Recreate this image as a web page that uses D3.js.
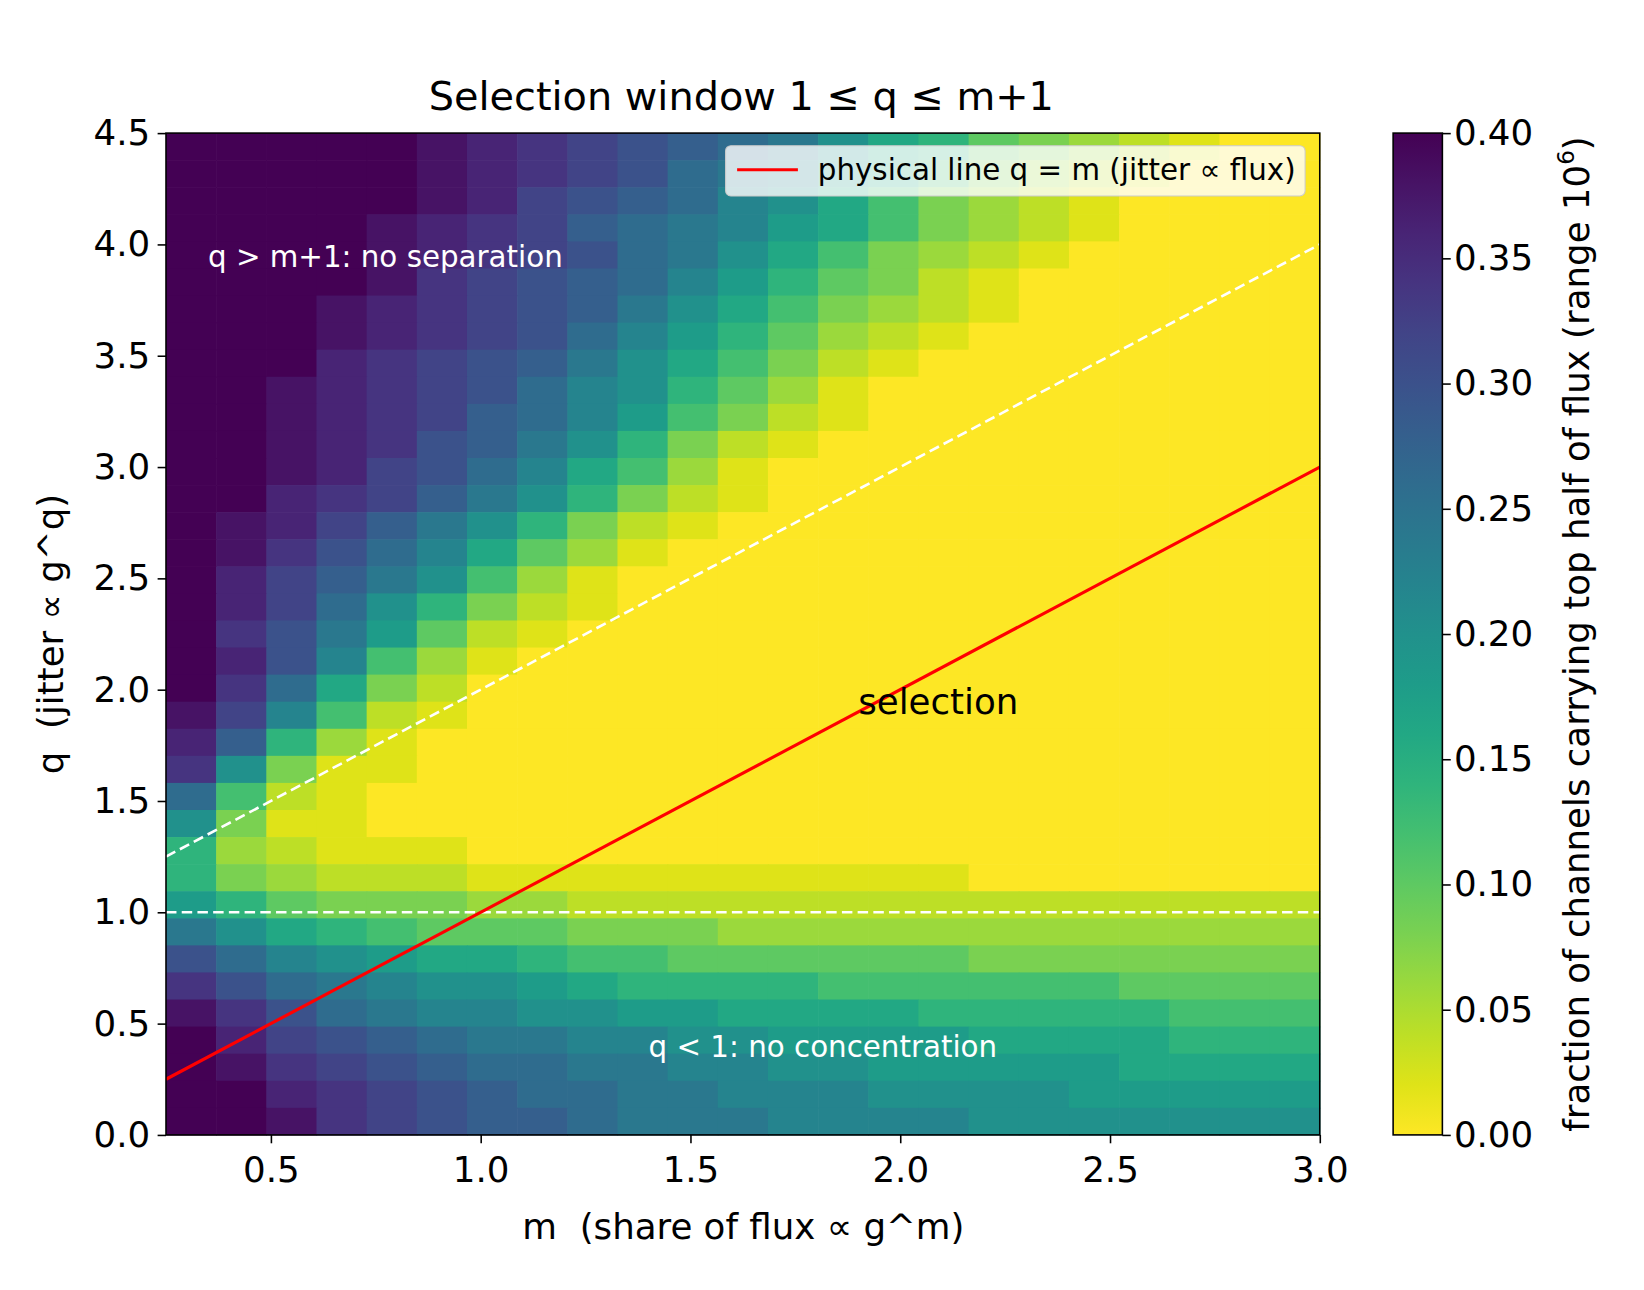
<!DOCTYPE html>
<html><head><meta charset="utf-8">
<script src="https://cdn.jsdelivr.net/npm/d3@7"></script>
<style>body{margin:0;background:#fff;font-family:"DejaVu Sans",sans-serif}</style>
</head><body><svg id="chart" width="1644" height="1290" viewBox="0 0 1568 1231"></svg>
<script>
// grid extent (imshow style), 23 columns x 37 rows, rows listed top (q=4.5) to bottom (q=0)
var mExtent = [0.25, 3.0];
var qExtent = [0, 4.5];
// each char is a level, value = index in levelChars * 0.02 (k = 0.40)
var levelChars = "0123456789abcdefghijk";
var gridRows = [
  "kkkkkjihgfedca875432100",
  "kkkkkjihgfdcb9864321000",
  "kkkkkjigfedba8643210000",
  "kkkkjihgedcb98643210000",
  "kkkkjihgfdca86432100000",
  "kkkkjhgfedb975421000000",
  "kkkjihgfeca864321000000",
  "kkkjihgfdb9753210000000",
  "kkkihgfeca8642100000000",
  "kkjihgfdba7531000000000",
  "kkjihgedb96421000000000",
  "kkjihfeca74210000000000",
  "kkjigfdb863100000000000",
  "kkihgeca742100000000000",
  "kjigeca7421000000000000",
  "kjhfdb85310000000000000",
  "kigeca63100000000000000",
  "kigda742100000000000000",
  "khfc9521000000000000000",
  "kifb6310000000000000000",
  "khd84200000000000000000",
  "jgb62100000000000000000",
  "ie731000000000000000000",
  "ha411000000000000000000",
  "d6210000000000000000000",
  "a4110000000000000000000",
  "73211100000000000000000",
  "74322211111111110000000",
  "97544433222222222222222",
  "ca876555444333333333333",
  "fdba9887665555554444444",
  "hfdcbaa9877776666665555",
  "jhfdcbbaa99888877777666",
  "kigfedccbbaa99998888777",
  "kjhgfeddccbbaa999998888",
  "kkihgfeddccbbbaaaa99999",
  "kkjhgfeedcccbbbbaaaaaaa"
];
var xTicks = [0.5, 1.0, 1.5, 2.0, 2.5, 3.0];
var yTicks = [0.0, 0.5, 1.0, 1.5, 2.0, 2.5, 3.0, 3.5, 4.0, 4.5];
var cbTicks = [0.00, 0.05, 0.10, 0.15, 0.20, 0.25, 0.30, 0.35, 0.40];
var vmax = 0.4;

var svg = d3.select("#chart");
var x = d3.scaleLinear().domain(mExtent).range([158, 1259]);
var y = d3.scaleLinear().domain(qExtent).range([1083, 127]);
var color = function(v) { return d3.interpolateViridis(1 - Math.min(v, vmax) / vmax); };

var nCols = 23, nRows = gridRows.length;
var dm = (mExtent[1] - mExtent[0]) / nCols, dq = (qExtent[1] - qExtent[0]) / nRows;
var cells = [];
gridRows.forEach(function(row, i) {
  row.split("").slice(0, nCols).forEach(function(c, j) {
    cells.push({m0: mExtent[0] + j * dm, q1: qExtent[1] - i * dq, v: levelChars.indexOf(c) * 0.02});
  });
});

svg.append("defs").append("clipPath").attr("id", "plotclip")
  .append("rect").attr("x", 158).attr("y", 127).attr("width", 1101).attr("height", 956);

svg.append("g").selectAll("rect").data(cells).enter().append("rect")
  .attr("x", function(d) { return x(d.m0); })
  .attr("y", function(d) { return y(d.q1); })
  .attr("width", function(d) { return x(d.m0 + dm) - x(d.m0) + 0.6; })
  .attr("height", function(d) { return y(d.q1 - dq) - y(d.q1) + 0.6; })
  .attr("fill", function(d) { return color(d.v); });

var lines = svg.append("g").attr("clip-path", "url(#plotclip)");
lines.append("line").attr("x1", x(0.25)).attr("x2", x(3)).attr("y1", y(1)).attr("y2", y(1))
  .attr("stroke", "#fff").attr("stroke-width", 2.5).attr("stroke-dasharray", "10,5");
lines.append("line").attr("x1", x(0.25)).attr("x2", x(3)).attr("y1", y(1.25)).attr("y2", y(4))
  .attr("stroke", "#fff").attr("stroke-width", 2.5).attr("stroke-dasharray", "10,5");
lines.append("line").attr("x1", x(0.25)).attr("x2", x(3)).attr("y1", y(0.25)).attr("y2", y(3))
  .attr("stroke", "red").attr("stroke-width", 3);

svg.append("rect").attr("x", 158).attr("y", 127).attr("width", 1101).attr("height", 956)
  .attr("fill", "none").attr("stroke", "#000").attr("stroke-width", 1.5);

var fs = 34;
var xAxis = svg.append("g").attr("transform", "translate(0,1083)")
  .call(d3.axisBottom(x).tickValues(xTicks).tickFormat(d3.format(".1f")).tickSizeInner(8).tickSizeOuter(0));
var yAxis = svg.append("g").attr("transform", "translate(158,0)")
  .call(d3.axisLeft(y).tickValues(yTicks).tickFormat(d3.format(".1f")).tickSizeInner(8).tickSizeOuter(0));
[xAxis, yAxis].forEach(function(a) {
  a.select(".domain").remove();
  a.selectAll("text").attr("font-size", fs).attr("font-family", "DejaVu Sans").attr("fill", "#000");
  a.selectAll("line").attr("stroke", "#000").attr("stroke-width", 1.5);
});
xAxis.selectAll("text").attr("dy", "1.0em");
yAxis.selectAll("text").attr("dx", "-0.12em");

// annotations
svg.append("text").attr("x", x(0.35)).attr("y", y(3.9)).attr("fill", "#fff")
  .attr("font-size", 28).text("q > m+1: no separation");
svg.append("text").attr("x", x(1.4)).attr("y", y(0.35)).attr("fill", "#fff")
  .attr("font-size", 28).text("q < 1: no concentration");
svg.append("text").attr("x", x(1.9)).attr("y", y(1.89)).attr("fill", "#000")
  .attr("font-size", 34).text("selection");

// legend
var lg = svg.append("g");
lg.append("rect").attr("x", 692).attr("y", 139).attr("width", 553).attr("height", 48).attr("rx", 5)
  .attr("fill", "#fff").attr("fill-opacity", 0.8).attr("stroke", "#ccc");
lg.append("line").attr("x1", 703).attr("x2", 761).attr("y1", 162).attr("y2", 162)
  .attr("stroke", "red").attr("stroke-width", 3);
lg.append("text").attr("x", 780).attr("y", 172).attr("font-size", 28).text("physical line q = m (jitter \u221d flux)");

// titles
svg.append("text").attr("x", 707).attr("y", 105).attr("text-anchor", "middle").attr("font-size", 38)
  .text("Selection window 1 \u2264 q \u2264 m+1");
svg.append("text").attr("x", 709).attr("y", 1182).attr("text-anchor", "middle").attr("font-size", 34)
  .text("m \u00a0(share of flux \u221d g^m)");
svg.append("text").attr("transform", "translate(60,605) rotate(-90)").attr("text-anchor", "middle")
  .attr("font-size", 34).text("q \u00a0(jitter \u221d g^q)");

// colorbar
var cb = d3.scaleLinear().domain([0, vmax]).range([1083, 127]);
var grad = svg.select("defs").append("linearGradient").attr("id", "cbgrad")
  .attr("x1", 0).attr("x2", 0).attr("y1", 1).attr("y2", 0);
d3.range(0, 1.0001, 0.05).forEach(function(t) {
  grad.append("stop").attr("offset", t).attr("stop-color", color(t * vmax));
});
svg.append("rect").attr("x", 1329).attr("y", 127).attr("width", 47).attr("height", 956)
  .attr("fill", "url(#cbgrad)").attr("stroke", "#000").attr("stroke-width", 1.5);
var cbAxis = svg.append("g").attr("transform", "translate(1376,0)")
  .call(d3.axisRight(cb).tickValues(cbTicks).tickFormat(d3.format(".2f")).tickSizeInner(8).tickSizeOuter(0));
cbAxis.select(".domain").remove();
cbAxis.selectAll("text").attr("font-size", fs).attr("font-family", "DejaVu Sans").attr("fill", "#000");
cbAxis.selectAll("line").attr("stroke", "#000").attr("stroke-width", 1.5);
var cbl = svg.append("text").attr("transform", "translate(1516,605) rotate(-90)").attr("text-anchor", "middle")
  .attr("font-size", 34);
cbl.append("tspan").text("fraction of channels carrying top half of flux (range 10");
cbl.append("tspan").attr("font-size", 22).attr("dy", -14).text("6");
cbl.append("tspan").attr("dy", 14).text(")");

// row length sanity check
gridRows.forEach(function(r, i) {
  if (r.length !== nCols) svg.append("text").attr("x", 5).attr("y", 20 + 20 * i).attr("fill", "red").text("row " + i + " len " + r.length);
});
</script></body></html>
